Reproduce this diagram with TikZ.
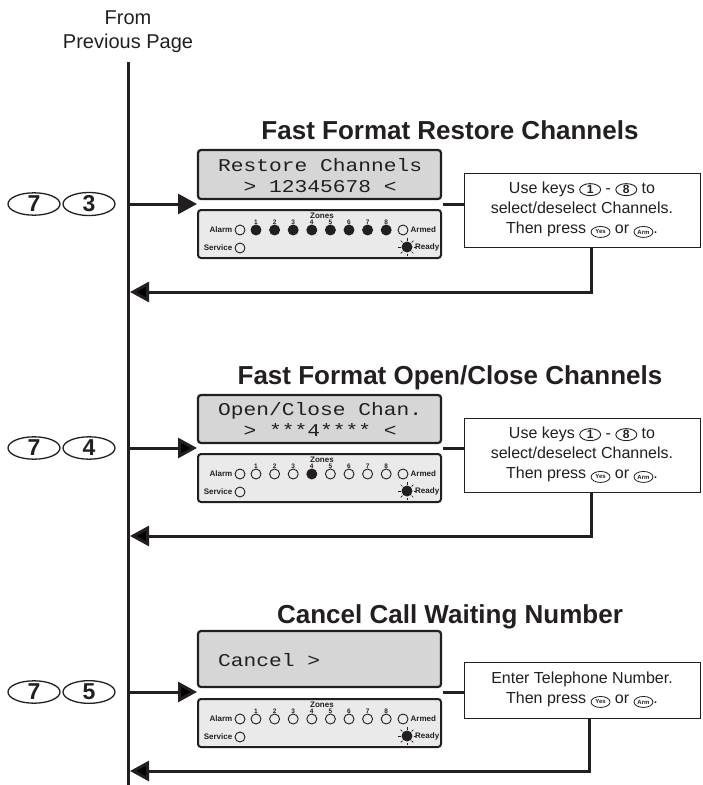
\documentclass[tikz,border=0pt]{standalone}
\usepackage{fontspec}
\setmainfont{Liberation Sans}
\newfontfamily\lcdfont[FakeStretch=1.18]{Liberation Mono}
\usetikzlibrary{shapes.geometric,arrows.meta}
\definecolor{ink}{RGB}{35,31,32}
\definecolor{lcdbg}{RGB}{214,214,214}
\definecolor{panbg}{RGB}{234,234,234}
\newcommand{\kdig}[1]{\tikz[baseline=(K.base)]\node[ellipse,draw=ink,line width=0.9pt,inner sep=0pt,minimum width=21pt,minimum height=12pt,font=\fontsize{12}{12}\selectfont\bfseries](K){#1};}
\newcommand{\ksm}[1]{\tikz[baseline={([yshift=-1.8pt]K.center)}]\node[ellipse,draw=ink,line width=0.8pt,inner sep=0pt,minimum width=19pt,minimum height=11pt,font=\fontsize{6}{6}\selectfont\bfseries](K){#1};}
\tikzset{
  pics/leds/.style={code={
    \node[tiny] (zn) at (124,5.5) {Zones};
    \foreach \i/\f in {#1} {
      \pgfmathsetmacro\xx{58+(\i-1)*18.6}
      \node[tinyn] at (\xx,12.5) {\i};
      \draw[ledst,fill=\f] (\xx,20) circle[radius=5pt];
    }
    \draw[ledst] (42,20) circle[radius=5pt];
    \node[tiny,anchor=east] (al) at (34.5,20) {Alarm};
    \draw[ledst] (205,20) circle[radius=5pt];
    \node[tiny,anchor=west] (am) at (212.5,20) {Armed};
    \draw[ledst] (42,38) circle[radius=5pt];
    \node[tiny,anchor=east] (sv) at (34.5,38) {Service};
    \draw[ledst,fill=ink] (209,37) circle[radius=5pt];
    \foreach \a in {0,45,...,315} \draw[ink,line width=0.7pt] ([shift={(\a:6.5pt)}]209,37) -- ([shift={(\a:9pt)}]209,37);
    \node[tiny,anchor=west] (rd) at (217,37) {Ready};
  }}
}
\begin{document}
\begin{tikzpicture}[x=1pt,y=-1pt,
  wire/.style={draw=ink,line width=3pt},
  arr/.style={wire,-{Triangle[length=19pt,width=20pt]}},
  lcd/.style={draw=ink,line width=2.2pt,fill=lcdbg,rounded corners=3pt,minimum width=243pt,inner sep=0pt},
  panel/.style={draw=ink,line width=2pt,fill=panbg,rounded corners=3pt,minimum width=243pt,minimum height=48pt,inner sep=0pt},
  note/.style={draw=ink,line width=1pt,fill=white,minimum width=236pt,align=center,font=\fontsize{16}{20}\selectfont,inner sep=0pt,text=ink},
  keyo/.style={ellipse,draw=ink,line width=1.3pt,minimum width=52pt,minimum height=21pt,inner sep=0pt,font=\fontsize{23}{23}\selectfont\bfseries,text=ink},
  title/.style={font=\fontsize{26}{26}\selectfont\bfseries,anchor=base,text=ink},
  lcdtxt/.style={font=\fontsize{18}{18}\lcdfont,anchor=base west,inner sep=0pt,text=ink},
  tiny/.style={font=\fontsize{8}{8}\selectfont\bfseries,inner sep=0pt,text=ink},
  tinyn/.style={font=\fontsize{6.5}{6.5}\selectfont\bfseries,inner sep=0pt,text=ink},
  ledst/.style={draw=ink,line width=0.9pt},
  head/.style={font=\fontsize{20}{24}\selectfont,anchor=base,text=ink}
]
\useasboundingbox (0,0) rectangle (703,785);
% header and main line
\node[head] (from) at (128,24) {From};
\node[head] (prev) at (128,48) {Previous Page};
\coordinate (vt) at (128,62);
\coordinate (vb) at (128,785);
\draw[wire] (vt) -- (vb);

% ---------- section 1
\node[title] (t1) at (450,139) {Fast Format Restore Channels};
\node[keyo] (k1a) at (34,204) {7};
\node[keyo] (k1b) at (89,204) {3};
\node[lcd,minimum height=49pt] (lcd1) at (319.5,174.5) {};
\node[lcdtxt] (l1a) at (218,171) {Restore Channels};
\node[lcdtxt] (l1b) at (243.5,192) {> 12345678 <};
\node[panel] (led1) at (319.5,234) {};
\pic at (198,210) {leds={1/ink,2/ink,3/ink,4/ink,5/ink,6/ink,7/ink,8/ink}};
\coordinate (v1) at (128,204);
\coordinate (e1) at (197,204);
\draw[arr] (v1) -- (e1);
\node[note,minimum height=74pt] (n1) at (582,210) {Use keys \kdig{1} - \kdig{8} to\\select/deselect Channels.\\Then press \ksm{Yes} or \ksm{Arm}.};
\coordinate (o1) at (443,204);
\draw[wire] (o1) -- (o1 -| n1.west);
\coordinate (r1) at (130,292);
\draw[arr] ([xshift=9pt]n1.south) |- (r1);

% ---------- section 2
\node[title] (t2) at (450,384) {Fast Format Open/Close Channels};
\node[keyo] (k2a) at (34,448) {7};
\node[keyo] (k2b) at (89,448) {4};
\node[lcd,minimum height=48pt] (lcd2) at (319.5,419) {};
\node[lcdtxt] (l2a) at (218,415) {Open/Close Chan.};
\node[lcdtxt] (l2b) at (243.5,436) {> ***4**** <};
\node[panel] (led2) at (319.5,478) {};
\pic at (198,454) {leds={1/none,2/none,3/none,4/ink,5/none,6/none,7/none,8/none}};
\coordinate (v2) at (128,448);
\coordinate (e2) at (197,448);
\draw[arr] (v2) -- (e2);
\node[note,minimum height=74pt] (n2) at (582,455) {Use keys \kdig{1} - \kdig{8} to\\select/deselect Channels.\\Then press \ksm{Yes} or \ksm{Arm}.};
\coordinate (o2) at (443,448);
\draw[wire] (o2) -- (o2 -| n2.west);
\coordinate (r2) at (130,536);
\draw[arr] ([xshift=9pt]n2.south) |- (r2);

% ---------- section 3
\node[title] (t3) at (450,623) {Cancel Call Waiting Number};
\node[keyo] (k3a) at (34,692) {7};
\node[keyo] (k3b) at (89,692) {5};
\node[lcd,minimum height=56pt] (lcd3) at (319.5,659) {};
\node[lcdtxt] (l3a) at (218,666) {Cancel >};
\node[panel] (led3) at (319.5,723) {};
\pic at (198,699) {leds={1/none,2/none,3/none,4/none,5/none,6/none,7/none,8/none}};
\coordinate (v3) at (128,692);
\coordinate (e3) at (197,692);
\draw[arr] (v3) -- (e3);
\node[note,minimum height=56pt] (n3) at (582,690) {Enter Telephone Number.\\Then press \ksm{Yes} or \ksm{Arm}.};
\coordinate (o3) at (443,692);
\draw[wire] (o3) -- (o3 -| n3.west);
\coordinate (r3) at (130,771);
\draw[arr] ([xshift=7pt]n3.south) |- (r3);
\end{tikzpicture}
\end{document}
